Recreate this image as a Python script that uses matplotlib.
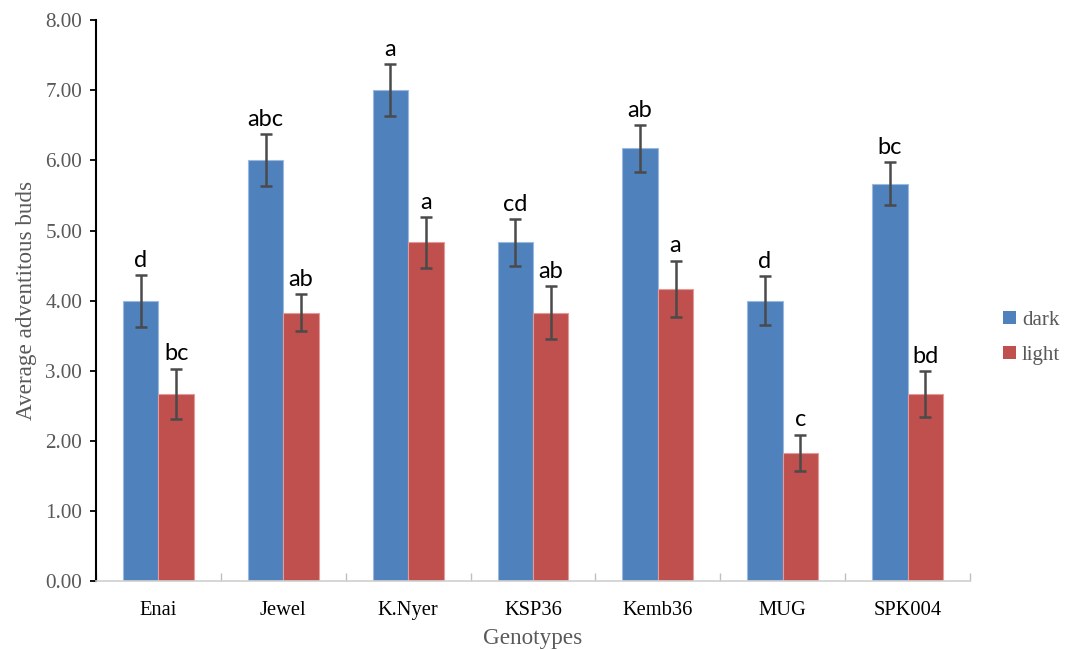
import numpy as np
import matplotlib
matplotlib.use("Agg")
import matplotlib.pyplot as plt
from matplotlib.patches import Patch
from matplotlib.ticker import FixedLocator

genotypes = ["Enai", "Jewel", "K.Nyer", "KSP36", "Kemb36", "MUG", "SPK004"]
dark = [4.00, 6.00, 7.00, 4.83, 6.17, 4.00, 5.67]
light = [2.67, 3.83, 4.83, 3.83, 4.17, 1.83, 2.67]
dark_se = [0.37, 0.37, 0.37, 0.33, 0.33, 0.35, 0.30]
light_se = [0.36, 0.26, 0.36, 0.38, 0.40, 0.26, 0.33]
dark_letters = ["d", "abc", "a", "cd", "ab", "d", "bc"]
light_letters = ["bc", "ab", "a", "ab", "a", "c", "bd"]

blue = "#4f81bd"
red = "#c0504d"
serif = "Liberation Serif"
sans = "Lato"

fig = plt.figure(figsize=(10.7, 6.5), dpi=100)
ax = fig.add_axes([0.0897, 0.106, 0.8168, 0.863])

x = np.arange(len(genotypes))
w = 0.284
err_kw = dict(ecolor="#4a4a4a", elinewidth=1.8, capsize=4.5, capthick=1.8)
ax.bar(x - w / 2, dark, w, yerr=dark_se, color=blue, edgecolor="#9bb9e0",
       linewidth=0.8, error_kw=err_kw, label="dark", zorder=2)
ax.bar(x + w / 2, light, w, yerr=light_se, color=red, edgecolor="#e39a98",
       linewidth=0.8, error_kw=err_kw, label="light", zorder=2)

# significance letters above the error bars
for xi, v, e, t in zip(x - w / 2, dark, dark_se, dark_letters):
    ax.annotate(t, (xi, v + e), xytext=(0, 3), textcoords="offset points",
                ha="center", va="bottom", fontsize=17, family=sans, color="black")
for xi, v, e, t in zip(x + w / 2, light, light_se, light_letters):
    ax.annotate(t, (xi, v + e), xytext=(0, 3), textcoords="offset points",
                ha="center", va="bottom", fontsize=17, family=sans, color="black")

ax.set_xlim(-0.5, len(genotypes) - 0.5)
ax.set_ylim(0, 8)
ax.set_yticks(np.arange(0, 9, 1))
ax.set_yticklabels([f"{v:.2f}" for v in np.arange(0, 9, 1)], family=serif,
                   fontsize=15.2, color="#595959")
ax.set_xticks(x)
ax.set_xticklabels(genotypes, family=serif, fontsize=14.8, color="black")
ax.xaxis.set_minor_locator(FixedLocator(np.arange(-0.5, len(genotypes), 1)))
ax.tick_params(axis="x", which="major", length=0, pad=14)
ax.tick_params(axis="x", which="minor", direction="in", length=6,
               color="#bfbfbf", width=1)
ax.tick_params(axis="y", direction="out", length=4, width=1.3,
               color="black", pad=6)

for s in ["top", "right"]:
    ax.spines[s].set_visible(False)
ax.spines["left"].set_color("black")
ax.spines["left"].set_linewidth(1.5)
ax.spines["bottom"].set_color("#d0d0d0")
ax.spines["bottom"].set_linewidth(1.2)

ax.set_xlabel("Genotypes", family=serif, fontsize=16.7, color="#595959", labelpad=6)
ax.set_ylabel("Average adventitous buds", family=serif, fontsize=16.7,
              color="#595959", labelpad=6)

handles = [Patch(facecolor=blue, label="dark"), Patch(facecolor=red, label="light")]
leg = fig.legend(handles=handles, loc="center left", bbox_to_anchor=(0.92, 0.48),
                 frameon=False, handlelength=0.6, handleheight=0.6,
                 handletextpad=0.3, labelspacing=0.75,
                 prop={"family": serif, "size": 15})
for t in leg.get_texts():
    t.set_color("#595959")

fig.savefig("out.png", dpi=100)
